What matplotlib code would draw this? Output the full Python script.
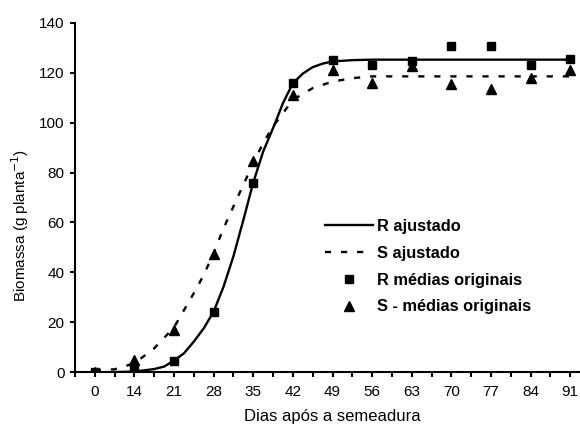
import numpy as np
import matplotlib
matplotlib.use('Agg')
import matplotlib.pyplot as plt
from matplotlib.ticker import MultipleLocator

plt.rcParams['font.family'] = ['Liberation Sans', 'DejaVu Sans']

# Dias (eixo de categorias, igualmente espaçadas)
dias = ['0', '14', '21', '28', '35', '42', '49', '56', '63', '70', '77', '84', '91']

# médias originais
r_medias = [0, 2, 4.5, 24, 76, 116, 125, 123, 124.5, 130.5, 130.5, 123, 125.5]
s_medias = [0, 5, 17, 47.5, 84.5, 111, 121, 116, 122.5, 115.5, 113.5, 118, 121]

# curvas ajustadas (posição em unidades de categoria, valor)
r_aj_pos = [0, 0.5, 1, 1.5, 1.75, 2, 2.25, 2.5, 2.75, 3, 3.25, 3.5, 3.75, 4, 4.25,
            4.5, 4.75, 5, 5.25, 5.5, 5.75, 6, 6.5, 7, 8, 9, 10, 11, 12]
r_aj = [0, 0.1, 0.3, 1.3, 2.3, 4.7, 7.6, 12.3, 17.6, 24.3, 34.3, 46.5, 61, 76, 88.4,
        97.8, 107.8, 115.8, 119.6, 122.2, 123.6, 124.5, 125, 125.2, 125.2, 125.2, 125.2, 125.2, 125.2]

s_aj_pos = [0, 0.5, 1, 1.5, 2, 2.5, 2.75, 3, 3.25, 3.5, 3.75, 4, 4.25, 4.5, 4.75,
            5, 5.5, 6, 6.5, 7, 8, 9, 10, 11, 12]
s_aj = [0.8, 1.2, 3.6, 9.6, 18, 31.7, 39, 47.7, 57.7, 66.4, 75.1, 83.8, 91.8, 98.5, 103.8,
        109.1, 113.8, 116.4, 117.8, 118.5, 118.5, 118.5, 118.5, 118.5, 118.5]

fig = plt.figure(figsize=(5.8, 4.28), dpi=100)
ax = fig.add_axes([75/580, (428-372.3)/428, 515/580, 349.6/428])

x = np.arange(len(dias))
ax.plot(r_aj_pos, r_aj, color='black', lw=1.7, label='R ajustado', zorder=3)
ax.plot(s_aj_pos, s_aj, color='black', lw=1.7, ls=(0, (2.6, 4.2)), label='S ajustado', zorder=3)
ax.plot(x, r_medias, ls='none', marker='s', ms=5.5, color='black', label='R médias originais', zorder=4)
ax.plot(x, s_medias, ls='none', marker='^', ms=7.5, color='black', label='S - médias originais', zorder=4)

ax.set_xlim(-0.5, 12.5)
ax.set_ylim(0, 140)
ax.set_xticks(x)
ax.set_xticklabels(dias)
ax.xaxis.set_minor_locator(MultipleLocator(0.5))
ax.set_yticks(np.arange(0, 141, 20))

for s in ['top', 'right']:
    ax.spines[s].set_visible(False)
for s in ['left', 'bottom']:
    ax.spines[s].set_linewidth(1.5)
ax.tick_params(axis='both', which='both', direction='out', length=3.5, width=1.5,
               labelsize=11, pad=4)
ax.tick_params(axis='x', which='major', pad=6)

fig.text(332/580, 1 - 417/428, 'Dias após a semeadura', ha='center', va='center', fontsize=12)
fig.text(20/580, 1 - 225/428, 'Biomassa (g planta$^{-1}$)', ha='center', va='center',
         rotation=90, fontsize=11)

leg = ax.legend(loc='upper left', bbox_to_anchor=(325/580, 1 - 219/428),
                bbox_transform=fig.transFigure, frameon=False,
                prop={'weight': 'bold', 'size': 11.8}, handlelength=2.9,
                handletextpad=0.3, labelspacing=0.72, borderpad=0, borderaxespad=0)

plt.savefig('out.png', dpi=100)
